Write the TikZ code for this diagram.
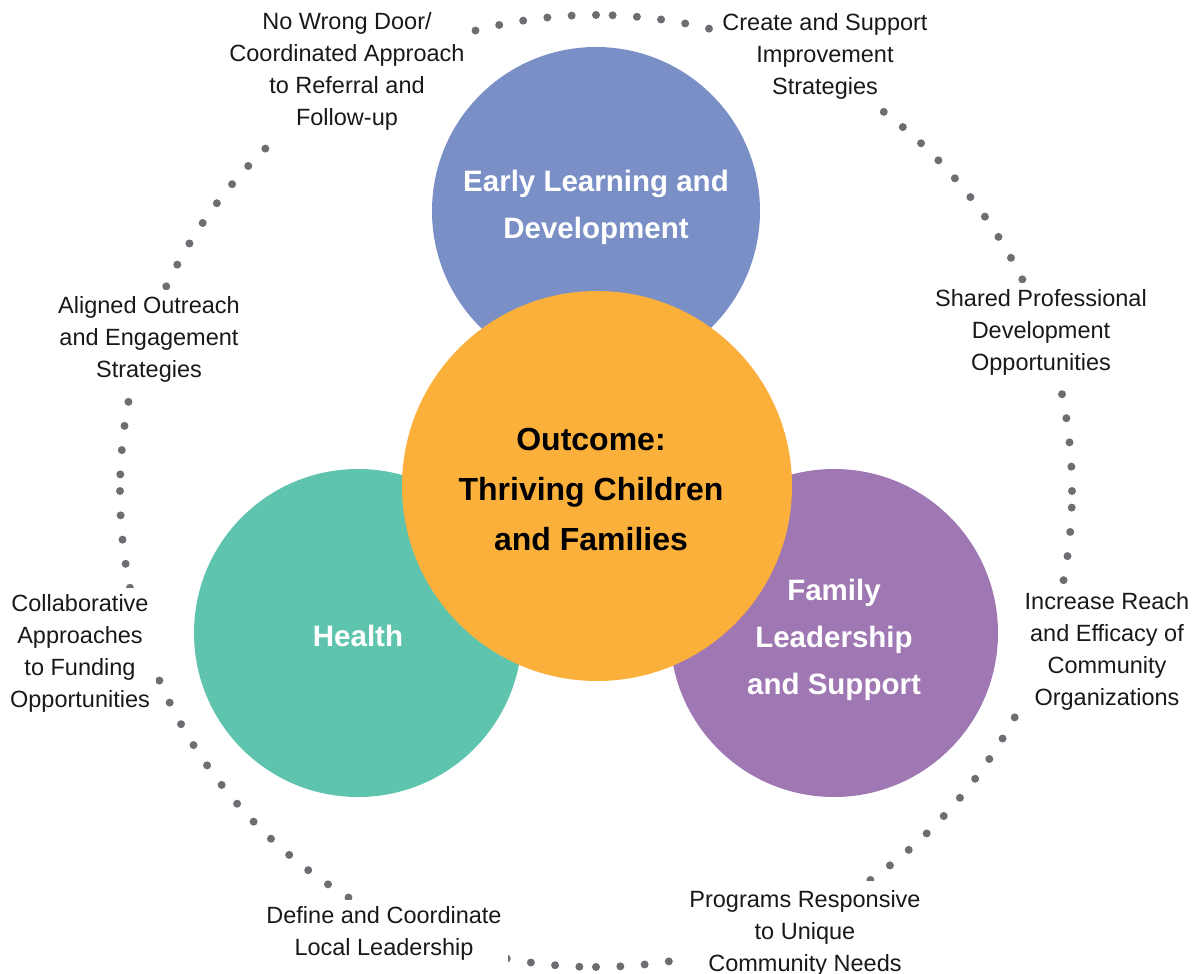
\documentclass[tikz,border=0pt]{standalone}
\usepackage{fontspec}
\setmainfont{Liberation Sans}
\definecolor{elblue}{HTML}{798FC6}
\definecolor{outorange}{HTML}{FBB03B}
\definecolor{healthteal}{HTML}{5FC4AE}
\definecolor{familypurple}{HTML}{9E77B3}
\definecolor{dotgray}{HTML}{6D6E71}
\begin{document}
\begin{tikzpicture}[x=1pt,y=-1pt,
  disc/.style={circle, inner sep=0pt, minimum size=328pt},
  disctext/.style={align=center, text=white, inner sep=0pt,
    font=\fontsize{29.5pt}{47pt}\selectfont\bfseries},
  strategy/.style={fill=white, inner sep=6pt, align=center, text=black!90,
    font=\fontsize{23.5pt}{32pt}\selectfont}]
\useasboundingbox (0,0) rectangle (1195,974);

% dotted ring made of four arcs, each with evenly spaced dots
\foreach \s in {0,90,180,270}{
  \foreach \k in {0,...,30}{
    \fill[dotgray] ({596+476*cos(\s+\k*88/30)},{491-476*sin(\s+\k*88/30)}) circle (4pt);
  }
}

% strategy labels around the ring
\node[strategy] (referral) at (347,71) {No Wrong Door/\\Coordinated Approach\\to Referral and\\Follow-up};
\node[strategy] (improve) at (825,56) {Create and Support\\Improvement\\Strategies};
\node[strategy] (profdev) at (1041,332) {Shared Professional\\Development\\Opportunities};
\node[strategy] (reach) at (1107,651) {Increase Reach\\and Efficacy of\\Community\\Organizations};
\node[strategy, inner sep=9pt] (programs) at (805,933) {Programs Responsive\\to Unique\\Community Needs};
\node[strategy] (leadership) at (384,933) {Define and Coordinate\\Local Leadership};
\node[strategy] (funding) at (80,653) {Collaborative\\Approaches\\to Funding\\Opportunities};
\node[strategy] (outreach) at (149,339) {Aligned Outreach\\and Engagement\\Strategies};

% domain circles
\node[disc, fill=elblue] (early) at (596,211) {};
\node[disc, fill=healthteal] (health) at (358,633) {};
\node[disc, fill=familypurple] (family) at (834,633) {};
\node[disc, fill=outorange, minimum size=390pt] (outcome) at (597,486) {};

\node[disctext] (earlytext) at (596,207) {Early Learning and\\Development};
\node[disctext] (healthtext) at (358,636) {Health};
\node[disctext] (familytext) at (834,640) {Family\\Leadership\\and Support};
\node[disctext, text=black, font=\fontsize{32pt}{50pt}\selectfont\bfseries] (outcometext) at (591,489) {Outcome:\\Thriving Children\\and Families};
\end{tikzpicture}
\end{document}
